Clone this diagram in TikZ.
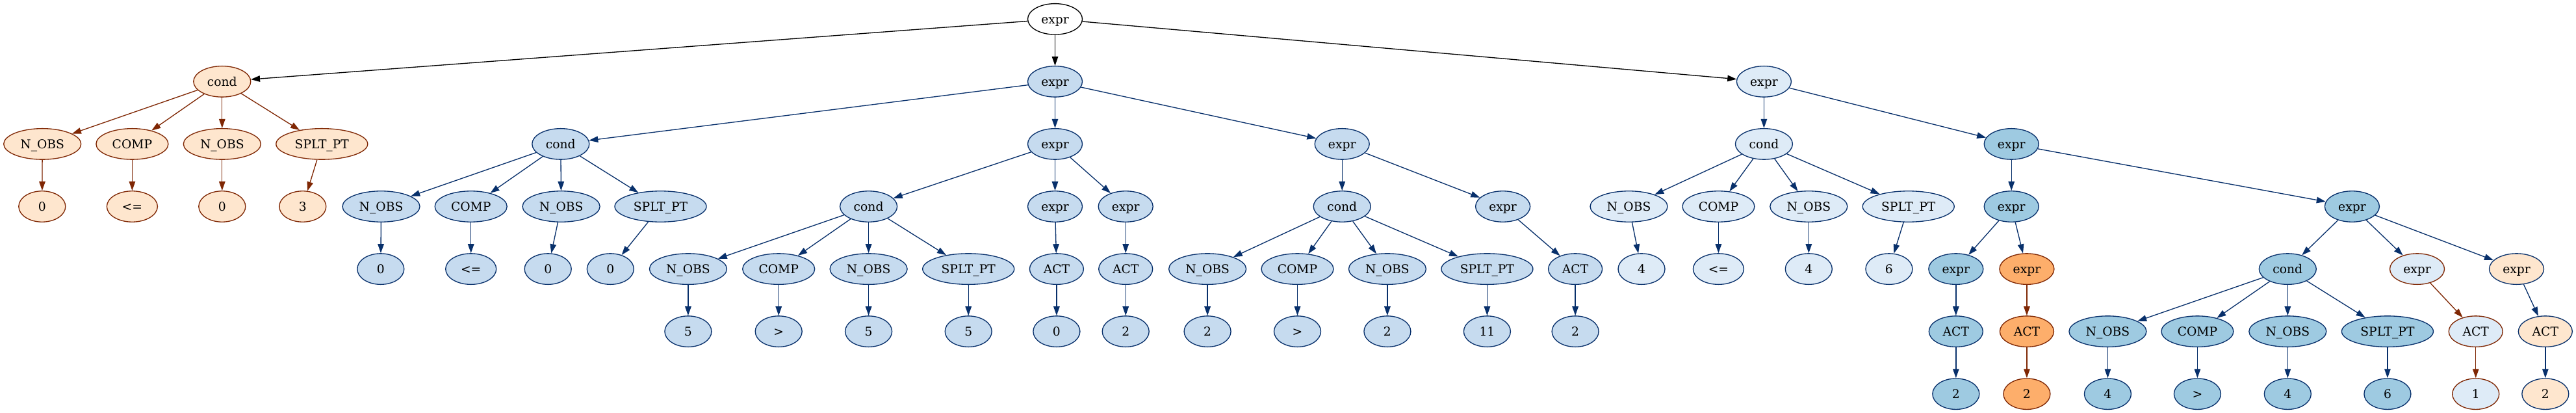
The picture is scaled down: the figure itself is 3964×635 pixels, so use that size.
\documentclass[tikz,border=0pt]{standalone}
\usepackage{fontspec}
\setmainfont{DejaVu Serif}
\usetikzlibrary{shapes.geometric,arrows.meta}
\definecolor{kbrown}{HTML}{7F2704}
\definecolor{kblue}{HTML}{08306B}
\definecolor{fpeach}{HTML}{FEE6CE}
\definecolor{forange}{HTML}{FDAE6B}
\definecolor{fbthree}{HTML}{DEEBF7}
\definecolor{fbfour}{HTML}{C6DBEF}
\definecolor{fbfive}{HTML}{9ECAE1}
\begin{document}
\begin{tikzpicture}[x=1bp,y=-1bp,
  gv/.style={ellipse, draw, minimum height=47.5bp, inner sep=0pt, line width=1.33bp,
    font=\fontsize{18.7bp}{22bp}\selectfont, text height=13.6bp, text depth=0pt},
  tx/.style={gv,minimum width=84bp},
  tc/.style={gv,minimum width=88bp},
  tn/.style={gv,minimum width=119bp},
  tm/.style={gv,minimum width=111bp},
  ts/.style={gv,minimum width=141bp},
  ta/.style={gv,minimum width=83bp},
  tle/.style={gv,minimum width=78bp},
  tv/.style={gv,minimum width=72bp},
  pk/.style={fill=white,draw=black},
  pb/.style={fill=fpeach,draw=kbrown},
  ob/.style={fill=forange,draw=kbrown},
  cfour/.style={fill=fbfour,draw=kblue},
  cthree/.style={fill=fbthree,draw=kblue},
  cfive/.style={fill=fbfive,draw=kblue},
  lb/.style={fill=fbthree,draw=kbrown},
  pbl/.style={fill=fpeach,draw=kblue},
  conn/.style={line width=1.33bp, -{Triangle[length=14bp,width=9.5bp]}},
  eb/.style={conn,draw=kblue},
  eo/.style={conn,draw=kbrown},
  ek/.style={conn,draw=black}
]
\path[use as bounding box] (0,0) rectangle (3964,635);
\def\yA{29.35}\def\yB{125.4}\def\yC{221.4}\def\yD{317.5}\def\yE{413.6}\def\yF{509.6}\def\yG{605.7}
% root
\node[tx,pk] (r) at (1623.5,\yA) {expr};
% left subtree
\node[tc,pb] (a) at (341.8,\yB) {cond};
\node[tn,pb] (a1) at (65.2,\yC) {N\_OBS};
\node[tm,pb] (a2) at (203.4,\yC) {COMP};
\node[tn,pb] (a3) at (341.8,\yC) {N\_OBS};
\node[ts,pb] (a4) at (495.3,\yC) {SPLT\_PT};
\node[tv,pb] (a1v) at (64.8,\yD) {0};
\node[tle,pb] (a2v) at (203.4,\yD) {<=};
\node[tv,pb] (a3v) at (341.8,\yD) {0};
\node[tv,pb] (a4v) at (465.8,\yD) {3};
% middle subtree
\node[tx,cfour] (b) at (1623.5,\yB) {expr};
\node[tc,cfour] (b1) at (862.8,\yC) {cond};
\node[tx,cfour] (b2) at (1623.5,\yC) {expr};
\node[tx,cfour] (b3) at (2065.2,\yC) {expr};
\node[tn,cfour] (b11) at (586.5,\yD) {N\_OBS};
\node[tm,cfour] (b12) at (724.7,\yD) {COMP};
\node[tn,cfour] (b13) at (863.6,\yD) {N\_OBS};
\node[ts,cfour] (b14) at (1016.5,\yD) {SPLT\_PT};
\node[tv,cfour] (b11v) at (585.8,\yE) {0};
\node[tle,cfour] (b12v) at (724.7,\yE) {<=};
\node[tv,cfour] (b13v) at (843.2,\yE) {0};
\node[tv,cfour] (b14v) at (939.3,\yE) {0};
\node[tc,cfour] (b21) at (1336.6,\yD) {cond};
\node[tx,cfour] (b22) at (1623.5,\yD) {expr};
\node[tx,cfour] (b23) at (1732.2,\yD) {expr};
\node[tn,cfour] (b211) at (1058.9,\yE) {N\_OBS};
\node[tm,cfour] (b212) at (1198.2,\yE) {COMP};
\node[tn,cfour] (b213) at (1336.6,\yE) {N\_OBS};
\node[ts,cfour] (b214) at (1490.2,\yE) {SPLT\_PT};
\node[tv,cfour] (b211v) at (1058.9,\yF) {5};
\node[tv,cfour] (b212v) at (1198.2,\yF) {>};
\node[tv,cfour] (b213v) at (1336.6,\yF) {5};
\node[tv,cfour] (b214v) at (1490.2,\yF) {5};
\node[ta,cfour] (b22a) at (1625.9,\yE) {ACT};
\node[tv,cfour] (b22v) at (1625.9,\yF) {0};
\node[ta,cfour] (b23a) at (1732.2,\yE) {ACT};
\node[tv,cfour] (b23v) at (1732.2,\yF) {2};
\node[tc,cfour] (b31) at (2065.2,\yD) {cond};
\node[tx,cfour] (b32) at (2312.6,\yD) {expr};
\node[tn,cfour] (b311) at (1858.1,\yE) {N\_OBS};
\node[tm,cfour] (b312) at (1996.5,\yE) {COMP};
\node[tn,cfour] (b313) at (2134.9,\yE) {N\_OBS};
\node[ts,cfour] (b314) at (2288.4,\yE) {SPLT\_PT};
\node[tv,cfour] (b311v) at (1858.1,\yF) {2};
\node[tv,cfour] (b312v) at (1996.5,\yF) {>};
\node[tv,cfour] (b313v) at (2134.9,\yF) {2};
\node[tv,cfour] (b314v) at (2288.4,\yF) {11};
\node[ta,cfour] (b32a) at (2424.1,\yE) {ACT};
\node[tv,cfour] (b32v) at (2424.1,\yF) {2};
% right subtree
\node[tx,cthree] (c) at (2714.4,\yB) {expr};
\node[tc,cthree] (c1) at (2714.4,\yC) {cond};
\node[tn,cthree] (c11) at (2506.5,\yD) {N\_OBS};
\node[tm,cthree] (c12) at (2644.4,\yD) {COMP};
\node[tn,cthree] (c13) at (2783.3,\yD) {N\_OBS};
\node[ts,cthree] (c14) at (2936.7,\yD) {SPLT\_PT};
\node[tv,cthree] (c11v) at (2526,\yE) {4};
\node[tle,cthree] (c12v) at (2644.4,\yE) {<=};
\node[tv,cthree] (c13v) at (2783.3,\yE) {4};
\node[tv,cthree] (c14v) at (2906.9,\yE) {6};
\node[tx,cfive] (c2) at (3095.2,\yC) {expr};
\node[tx,cfive] (c21) at (3095.2,\yD) {expr};
\node[tx,cfive] (c22) at (3619.4,\yD) {expr};
\node[tx,cfive] (c211) at (3009.8,\yE) {expr};
\node[tx,ob] (c212) at (3118.9,\yE) {expr};
\node[ta,cfive] (c211a) at (3009.8,\yF) {ACT};
\node[tv,cfive] (c211v) at (3009.8,\yG) {2};
\node[ta,ob] (c212a) at (3118.9,\yF) {ACT};
\node[tv,ob] (c212v) at (3118.9,\yG) {2};
\node[tc,cfive] (c221) at (3520.3,\yE) {cond};
\node[tx,lb] (c222) at (3719.5,\yE) {expr};
\node[tx,pbl] (c223) at (3872.5,\yE) {expr};
\node[tn,cfive] (c2211) at (3243.4,\yF) {N\_OBS};
\node[tm,cfive] (c2212) at (3381.4,\yF) {COMP};
\node[tn,cfive] (c2213) at (3520.3,\yF) {N\_OBS};
\node[ts,cfive] (c2214) at (3673.9,\yF) {SPLT\_PT};
\node[tv,cfive] (c2211v) at (3243.4,\yG) {4};
\node[tv,cfive] (c2212v) at (3381.4,\yG) {>};
\node[tv,cfive] (c2213v) at (3520.3,\yG) {4};
\node[tv,cfive] (c2214v) at (3673.9,\yG) {6};
\node[ta,lb] (c222a) at (3809.7,\yF) {ACT};
\node[tv,lb] (c222v) at (3809.7,\yG) {1};
\node[ta,pbl] (c223a) at (3916.8,\yF) {ACT};
\node[tv,pbl] (c223v) at (3916.8,\yG) {2};
% edges
\draw[ek] (r) -- (a);
\draw[ek] (r) -- (b);
\draw[ek] (r) -- (c);
\foreach \p/\q in {a/a1,a/a2,a/a3,a/a4,a1/a1v,a2/a2v,a3/a3v,a4/a4v,c212/c212a,c212a/c212v,c222/c222a,c222a/c222v}
  \draw[eo] (\p) -- (\q);
\foreach \p/\q in {b/b1,b/b2,b/b3,b1/b11,b1/b12,b1/b13,b1/b14,b11/b11v,b12/b12v,b13/b13v,b14/b14v,
  b2/b21,b2/b22,b2/b23,b21/b211,b21/b212,b21/b213,b21/b214,b211/b211v,b212/b212v,b213/b213v,b214/b214v,
  b22/b22a,b22a/b22v,b23/b23a,b23a/b23v,b3/b31,b3/b32,b31/b311,b31/b312,b31/b313,b31/b314,
  b311/b311v,b312/b312v,b313/b313v,b314/b314v,b32/b32a,b32a/b32v,
  c/c1,c/c2,c1/c11,c1/c12,c1/c13,c1/c14,c11/c11v,c12/c12v,c13/c13v,c14/c14v,
  c2/c21,c2/c22,c21/c211,c21/c212,c211/c211a,c211a/c211v,c22/c221,c22/c222,c22/c223,
  c221/c2211,c221/c2212,c221/c2213,c221/c2214,c2211/c2211v,c2212/c2212v,c2213/c2213v,c2214/c2214v,
  c223/c223a,c223a/c223v}
  \draw[eb] (\p) -- (\q);
\end{tikzpicture}
\end{document}
